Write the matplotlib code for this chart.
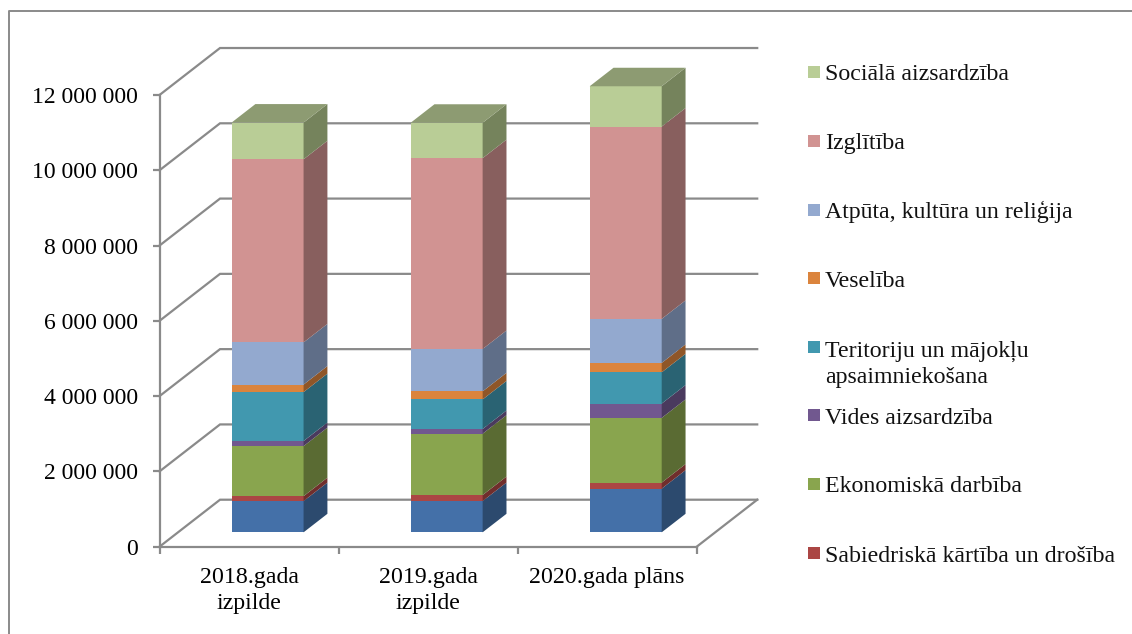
import matplotlib
matplotlib.use("Agg")
import numpy as np
import matplotlib.pyplot as plt
from matplotlib.lines import Line2D
from matplotlib.patches import Rectangle
from matplotlib.ticker import FuncFormatter

plt.rcParams['font.family'] = ['Liberation Serif', 'DejaVu Sans']

W, H = 1132, 634
categories = ['2018.gada\nizpilde', '2019.gada\nizpilde', '2020.gada plāns']

# values, bottom of the stack first
vispareji = [830000, 830000, 1160000]
kartiba = [130000, 160000, 160000]
ekonomika = [1330000, 1630000, 1720000]
vide = [135000, 125000, 380000]
teritorija = [1300000, 785000, 830000]
veseliba = [200000, 215000, 250000]
atputa = [1120000, 1125000, 1170000]
izglitiba = [4865000, 5070000, 5110000]
sociala = [975000, 940000, 1070000]

series = [vispareji, kartiba, ekonomika, vide, teritorija, veseliba, atputa, izglitiba, sociala]
colors = ['#4470A8', '#AB4644', '#89A54E', '#71588F', '#4198AF', '#DB843D', '#93A9CF', '#D19392', '#B9CD96']
side_colors = ['#2C4A6E', '#702E2C', '#5A6B33', '#4A3A5E', '#2A6373', '#8F5628', '#5F6E88', '#885F5E', '#75835C']
top_color = '#8D9B72'

legend_labels = ['Sociālā aizsardzība', 'Izglītība', 'Atpūta, kultūra un reliģija', 'Veselība',
                 'Teritoriju un mājokļu\napsaimniekošana', 'Vides aizsardzība', 'Ekonomiskā darbība',
                 'Sabiedriskā kārtība un drošība']
legend_colors = colors[:0:-1]
legend_y = [72, 141, 209.5, 278, 346.7, 415, 484, 553]

grid_color = '#8A8A8A'

fig = plt.figure(figsize=(W / 100, H / 100), dpi=100)
x0, x1, y0, y1 = 159.5, 696.7, 546.7, 95
ax = fig.add_axes([x0 / W, 1 - y0 / H, (x1 - x0) / W, (y0 - y1) / H])
ax.set_xlim(0, 3)
ax.set_ylim(0, 12000000)
ax.patch.set_alpha(0)

# depth of the fake 3D box, in data units
DX = 60.5 / 179
DY = 47 / 37.65 * 1000000
near, far = 0.306, 0.70
bar_w = 72 / 179

# back wall lines
yticks = np.arange(0, 12000001, 2000000)
for v in yticks:
    ax.plot([0, DX, 3 + DX], [v, v + DY, v + DY], color=grid_color, lw=1.6, clip_on=False, zorder=1,
            solid_joinstyle='miter')
ax.plot([3, 3 + DX], [0, DY], color=grid_color, lw=1.6, clip_on=False, zorder=1)

xs = np.arange(3) + 0.5 + near * DX
ddx = (far - near) * DX
ddy = (far - near) * DY
bottom = np.zeros(3) + near * DY
for vals, c, sc in zip(series, colors, side_colors):
    vals = np.array(vals)
    ax.bar(xs, vals, bar_w, bottom=bottom, color=c, zorder=3, clip_on=False)
    for x, b, v in zip(xs, bottom, vals):
        r = x + bar_w / 2
        ax.fill([r, r + ddx, r + ddx, r], [b, b + ddy, b + v + ddy, b + v], color=sc, lw=0, zorder=3, clip_on=False)
    bottom = bottom + vals
for x, t in zip(xs, bottom):
    l, r = x - bar_w / 2, x + bar_w / 2
    ax.fill([l, r, r + ddx, l + ddx], [t, t, t + ddy, t + ddy], color=top_color, lw=0, zorder=3, clip_on=False)

for s in ['top', 'right']:
    ax.spines[s].set_visible(False)
for s in ['left', 'bottom']:
    ax.spines[s].set_color(grid_color)
    ax.spines[s].set_linewidth(1.6)

ax.set_yticks(yticks)
ax.yaxis.set_major_formatter(FuncFormatter(lambda v, p: f'{int(v):,}'.replace(',', ' ')))
ax.tick_params(axis='y', length=5, width=1.6, color=grid_color, pad=10.5, labelsize=17, labelcolor='black')
ax.set_xticks([0, 1, 2, 3])
ax.set_xticklabels([])
ax.tick_params(axis='x', which='major', length=5, width=1.6, color=grid_color)
ax.set_xticks([0.5, 1.5, 2.5], minor=True)
ax.set_xticklabels(categories, minor=True, fontsize=17.2, linespacing=1.3)
ax.tick_params(axis='x', which='minor', length=0, pad=14.5)

# chart frame, cut off at the right and bottom of the picture
fig.add_artist(Line2D([8.5 / W, 8.5 / W, 1132 / W], [0, 1 - 10.5 / H, 1 - 10.5 / H], color=grid_color, lw=1.4))

# legend
line_gap = 27.5
for label, c, y in zip(legend_labels, legend_colors, legend_y):
    fig.add_artist(Rectangle((808 / W, 1 - (y + 6) / H), 12 / W, 12 / H, color=c, lw=0, transform=fig.transFigure))
    # multi-line text sits on its last baseline
    base = y + 8.5 + line_gap * label.count('\n')
    fig.text(825 / W, 1 - base / H, label, fontsize=17.2, va='baseline', ha='left', linespacing=1.3,
             color='#111111')

fig.savefig('out.png', dpi=100)
